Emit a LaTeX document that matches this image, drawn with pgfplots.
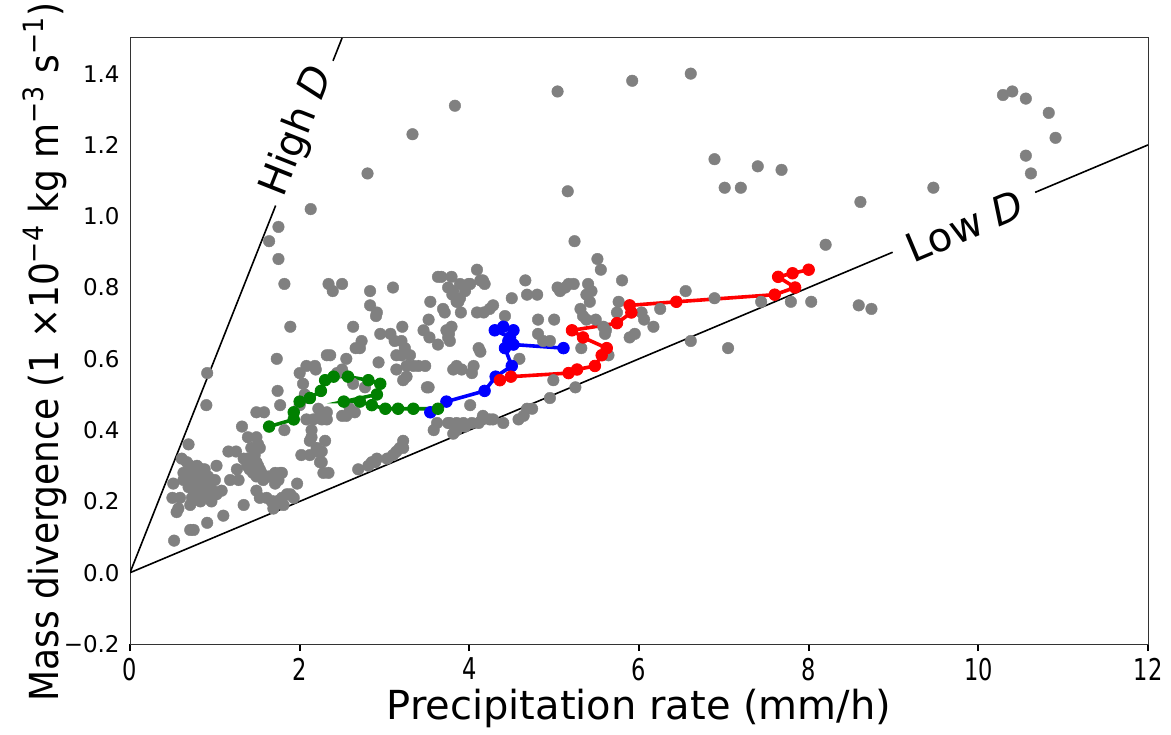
\documentclass[border=0pt]{standalone}
\usepackage{fontspec}
\setmainfont{DejaVu Sans}
\newfontfamily\condfont{DejaVu Sans}[FakeStretch=0.9]
\newfontfamily\tickfont{DejaVu Sans}[FakeStretch=0.75]
\usepackage{pgfplots}
\pgfplotsset{compat=1.18}
\definecolor{mplgray}{HTML}{808080}
\definecolor{mplgreen}{HTML}{008000}
\definecolor{mplblue}{HTML}{0000FF}
\definecolor{mplred}{HTML}{FF0000}

\begin{document}
\begin{tikzpicture}
\begin{axis}[
  scale only axis, width=509pt, height=303pt,
  xmin=0, xmax=12, ymin=-0.2, ymax=1.5,
  xtick={0,2,4,6,8,10,12}, xticklabels={0,2,4,6,8,10,12},
  ytick={-0.2,0,0.2,0.4,0.6,0.8,1.0,1.2,1.4},
  yticklabels={−0.2,0.0,0.2,0.4,0.6,0.8,1.0,1.2,1.4},
  tick pos=left, tick align=outside, major tick length=3.5pt,
  xtick style={line width=0.9pt, black},
  ytick style={draw=none},
  axis line style={line width=0.5pt, black!80},
  xticklabel style={font=\tickfont\fontsize{15}{16}\selectfont},
  yticklabel style={font=\fontsize{11.5}{13}\selectfont, inner xsep=1.5pt},
  xlabel={Precipitation rate (mm/h)},
  xlabel style={font=\fontsize{20}{24}\selectfont, at={(axis description cs:0.5,-0.106)}, anchor=center},
  ylabel={Mass divergence (1 ×10\textsuperscript{−4} kg m\textsuperscript{−3} s\textsuperscript{−1})},
  ylabel style={font=\condfont\fontsize{20}{24}\selectfont, at={(axis description cs:-0.0835,0.482)}, anchor=center},
]
\coordinate (sw) at (rel axis cs:0,0);
\coordinate (ne) at (rel axis cs:1,1);

% reference lines with gaps for the labels
\addplot[black, line width=0.8pt] coordinates {(0,0) (1.717,1.030)};
\addplot[black, line width=0.8pt] coordinates {(2.393,1.436) (2.5,1.5)};
\addplot[black, line width=0.8pt] coordinates {(0,0) (8.99,0.899)};
\addplot[black, line width=0.8pt] coordinates {(10.67,1.067) (12,1.2)};

% all samples
\addplot[only marks, mark=*, mark size=2.9pt, mark options={fill=mplgray, draw=mplgray, line width=0.2pt}] coordinates {
(0.52,0.09) (0.71,0.12) (0.75,0.12) (0.91,0.14) (0.55,0.17) (0.57,0.18) (0.71,0.19) (0.83,0.20) (0.96,0.20)
(0.50,0.21) (0.59,0.21) (0.73,0.21) (0.79,0.22) (0.86,0.22) (0.94,0.21) (1.02,0.22) (0.98,0.23) (1.08,0.23)
(0.75,0.23) (0.86,0.23) (0.69,0.24) (0.81,0.24) (0.51,0.25) (0.94,0.25) (1.00,0.26) (0.63,0.26) (0.77,0.26)
(0.86,0.26) (0.67,0.27) (0.92,0.27) (0.63,0.28) (0.73,0.28) (0.83,0.28) (0.85,0.29) (0.88,0.29) (0.71,0.30)
(0.79,0.30) (1.02,0.30) (0.67,0.31) (0.61,0.32) (0.69,0.36) (0.90,0.47) (0.91,0.56) (1.10,0.16) (1.18,0.26)
(1.16,0.34) (1.25,0.34)
(1.26,0.29) (1.28,0.26) (1.34,0.19) (1.34,0.32) (1.38,0.30) (1.38,0.32) (1.41,0.29) (1.41,0.31) (1.45,0.28)
(1.45,0.32) (1.49,0.31) (1.53,0.29) (1.51,0.30) (1.55,0.28) (1.47,0.33) (1.43,0.35) (1.53,0.35) (1.51,0.36)
(1.39,0.38) (1.49,0.38) (1.32,0.41) (1.49,0.45) (1.58,0.45) (1.49,0.27) (1.57,0.26) (1.63,0.27) (1.67,0.27)
(1.71,0.28) (1.77,0.28) (1.79,0.28) (1.71,0.25) (1.75,0.26) (1.49,0.23) (1.53,0.21) (1.61,0.21) (1.67,0.20)
(1.69,0.20) (1.73,0.20) (1.75,0.20) (1.79,0.21) (1.81,0.19) (1.69,0.18) (1.85,0.22) (1.89,0.22) (1.93,0.21)
(1.97,0.25) (1.82,0.40) (1.77,0.47) (1.74,0.51) (1.73,0.60) (1.89,0.69) (1.82,0.81) (1.75,0.88) (1.64,0.93)
(1.75,0.97)
(2.00,0.47) (2.00,0.56) (2.04,0.53) (2.06,0.50) (2.10,0.49) (2.02,0.33) (2.12,0.33) (2.20,0.34) (2.26,0.31)
(2.28,0.28) (2.34,0.28) (2.24,0.31) (2.26,0.34) (2.20,0.35) (2.12,0.37) (2.14,0.38) (2.30,0.37) (2.14,0.40)
(2.08,0.43) (2.16,0.43) (2.24,0.44) (2.26,0.43) (2.32,0.45) (2.32,0.43) (2.22,0.46) (2.50,0.44) (2.55,0.44)
(2.59,0.46) (2.65,0.45) (2.63,0.53) (2.77,0.52) (2.08,0.58) (2.18,0.58) (2.19,0.57) (2.32,0.61) (2.36,0.61)
(2.44,0.56) (2.50,0.57) (2.55,0.60) (2.63,0.69) (2.66,0.63) (2.71,0.63) (2.73,0.65) (2.93,0.59) (2.95,0.67)
(2.90,0.72) (2.91,0.73) (2.83,0.75) (2.83,0.79) (2.34,0.81) (2.39,0.79) (2.50,0.81) (2.13,1.02) (2.80,1.12)
(2.69,0.29) (2.81,0.30) (2.85,0.31) (2.89,0.31) (2.91,0.32)
(3.03,0.32) (3.10,0.33) (3.14,0.34) (3.18,0.35) (3.22,0.37) (3.22,0.35) (3.07,0.67) (3.12,0.65) (3.20,0.65)
(3.10,0.80) (3.21,0.69) (3.24,0.63) (3.14,0.61) (3.20,0.61) (3.30,0.61) (3.26,0.58) (3.34,0.58) (3.40,0.58)
(3.48,0.58) (3.14,0.57) (3.26,0.55) (3.22,0.54) (3.46,0.68) (3.52,0.71) (3.54,0.76) (3.53,0.66) (3.63,0.64)
(3.73,0.68) (3.75,0.66) (3.76,0.67) (3.79,0.69) (3.77,0.65) (3.69,0.74) (3.71,0.73) (3.63,0.83) (3.67,0.83)
(3.79,0.83) (3.89,0.81) (3.75,0.80) (3.81,0.79) (3.80,0.78) (3.85,0.76) (3.87,0.76) (3.89,0.77) (3.95,0.79)
(3.90,0.73) (3.99,0.81) (3.33,1.23) (3.83,1.31) (3.52,0.52) (3.50,0.52) (3.62,0.42) (3.58,0.40) (3.75,0.42)
(3.77,0.42) (3.81,0.39) (3.85,0.40) (3.85,0.42) (3.93,0.42) (3.95,0.41) (3.81,0.57) (3.85,0.58) (3.91,0.57)
(4.01,0.81) (4.09,0.85) (4.13,0.82) (4.16,0.82) (4.18,0.81) (4.09,0.73) (4.17,0.73) (4.24,0.74) (4.28,0.75)
(4.42,0.72) (4.50,0.77) (4.66,0.82) (4.68,0.78) (4.80,0.78) (4.81,0.71) (4.11,0.63) (4.13,0.62) (4.05,0.58)
(4.03,0.56) (4.59,0.60) (4.81,0.67) (4.87,0.65) (4.95,0.65) (4.99,0.54) (4.95,0.49) (4.01,0.47) (4.68,0.46)
(4.74,0.46) (4.64,0.44) (4.58,0.43) (4.40,0.42) (4.16,0.44) (4.24,0.43) (4.28,0.43) (4.15,0.43) (4.11,0.42)
(4.03,0.42)
(5.00,0.71) (5.04,0.80) (5.07,0.79) (5.13,0.80) (5.17,0.81) (5.23,0.81) (5.40,0.81) (5.44,0.79) (5.38,0.78)
(5.42,0.76) (5.31,0.74) (5.34,0.72) (5.38,0.71) (5.49,0.71) (5.58,0.69) (5.60,0.67) (5.61,0.68) (5.32,0.63)
(5.25,0.52) (5.64,0.61) (5.51,0.88) (5.55,0.85) (5.24,0.93) (5.16,1.07) (5.04,1.35) (5.80,0.82) (5.76,0.76)
(5.74,0.73) (5.89,0.66) (5.95,0.67) (6.03,0.73) (6.06,0.71) (6.17,0.69) (6.25,0.74) (6.55,0.79) (6.61,0.65)
(6.89,0.77) (7.05,0.63) (7.44,0.76) (5.92,1.38) (6.61,1.40) (6.89,1.16) (7.01,1.08) (7.20,1.08) (7.40,1.14)
(7.68,1.13) (7.79,0.76) (8.03,0.76) (8.20,0.92) (8.59,0.75) (8.61,1.04) (8.74,0.74) (9.47,1.08) (10.29,1.34)
(10.40,1.35) (10.56,1.33) (10.83,1.29) (10.91,1.22) (10.56,1.17) (10.62,1.12)
};

% tracked sequences
\addplot[mplblue, line width=1.8pt, mark=*, mark size=2.9pt, mark options={fill=mplblue, line width=0.4pt}] coordinates {
(3.54,0.45) (3.73,0.48) (4.18,0.51) (4.31,0.55) (4.50,0.58) (4.42,0.63) (4.48,0.66) (4.30,0.68) (4.40,0.69)
(4.52,0.68) (4.46,0.65) (4.52,0.64) (5.11,0.63)
};
\addplot[mplgreen, line width=1.8pt, mark=*, mark size=2.9pt, mark options={fill=mplgreen, line width=0.4pt}] coordinates {
(1.64,0.41) (1.93,0.43) (1.93,0.45) (2.00,0.48) (2.12,0.49) (2.25,0.51) (2.30,0.54) (2.40,0.55) (2.57,0.55)
(2.81,0.54) (2.95,0.53) (2.91,0.50) (2.52,0.48) (2.71,0.48) (2.85,0.47) (3.01,0.46) (3.16,0.46) (3.34,0.46)
(3.63,0.46)
};
\addplot[mplred, line width=1.8pt, mark=*, mark size=2.9pt, mark options={fill=mplred, line width=0.4pt}] coordinates {
(4.36,0.54) (4.49,0.55) (5.17,0.56) (5.27,0.57) (5.48,0.58) (5.56,0.61) (5.62,0.63) (5.34,0.66) (5.21,0.68)
(5.74,0.70) (5.91,0.73) (5.89,0.75) (6.44,0.76) (7.60,0.78) (7.84,0.80) (7.64,0.83) (7.81,0.84) (8.00,0.85)
};

\node[rotate=68.4, font=\fontsize{20}{24}\selectfont] at (axis cs:1.98,1.237) {High \textit{D}};
\node[rotate=22.8, font=\fontsize{20}{24}\selectfont] at (axis cs:9.84,0.971) {Low \textit{D}};
\end{axis}
\pgfresetboundingbox
\path[use as bounding box] ([xshift=-65pt,yshift=-45pt]sw) rectangle ([xshift=11.5pt,yshift=19pt]ne);
\end{tikzpicture}
\end{document}
